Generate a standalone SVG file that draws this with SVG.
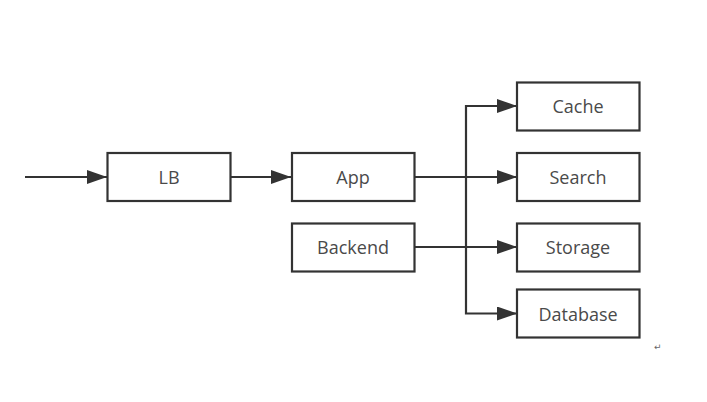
<svg xmlns="http://www.w3.org/2000/svg" width="707" height="402" viewBox="0 0 707 402">
<defs>
<marker id="ah" markerWidth="20" markerHeight="14" refX="20" refY="7" orient="auto" markerUnits="userSpaceOnUse">
<path d="M0,0 L20,7 L0,14 Z" fill="#333"/>
</marker>
<style>
.box{fill:#fff;stroke:#333;stroke-width:2.2}
.lbl{font-family:"Open Sans","Noto Sans",sans-serif;font-size:18px;fill:#4a4a4a;text-anchor:middle;dominant-baseline:central}
.ln{fill:none;stroke:#333;stroke-width:2.2}
</style>
</defs>
<rect width="707" height="402" fill="#fff"/>
<g id="connectors">
<line class="ln" x1="25" y1="177" x2="107" y2="177" marker-end="url(#ah)"/>
<line class="ln" x1="231" y1="177" x2="291" y2="177" marker-end="url(#ah)"/>
<line class="ln" x1="415" y1="177" x2="517" y2="177" marker-end="url(#ah)"/>
<line class="ln" x1="415" y1="247" x2="517" y2="247" marker-end="url(#ah)"/>
<path class="ln" d="M517,106 H466 V313.5 H517" marker-end="url(#ah)"/>
<line class="ln" x1="466" y1="106" x2="517" y2="106" marker-end="url(#ah)"/>
</g>
<g id="lb"><rect class="box" x="107.5" y="153" width="123" height="48"/><text class="lbl" x="169" y="177">LB</text></g>
<g id="app"><rect class="box" x="292" y="153" width="122.5" height="48"/><text class="lbl" x="353" y="177">App</text></g>
<g id="backend"><rect class="box" x="292" y="223.5" width="122.5" height="48"/><text class="lbl" x="353" y="247">Backend</text></g>
<g id="cache"><rect class="box" x="517" y="82.5" width="122.5" height="48"/><text class="lbl" x="578" y="106">Cache</text></g>
<g id="search"><rect class="box" x="517" y="153" width="122.5" height="48"/><text class="lbl" x="578" y="177">Search</text></g>
<g id="storage"><rect class="box" x="517" y="223.5" width="122.5" height="48"/><text class="lbl" x="578" y="247">Storage</text></g>
<g id="database"><rect class="box" x="517" y="289.5" width="122.5" height="48"/><text class="lbl" x="578" y="313.5">Database</text></g>
<text x="654" y="350" font-family="DejaVu Sans,sans-serif" font-size="9" fill="#666">↵</text>
</svg>
